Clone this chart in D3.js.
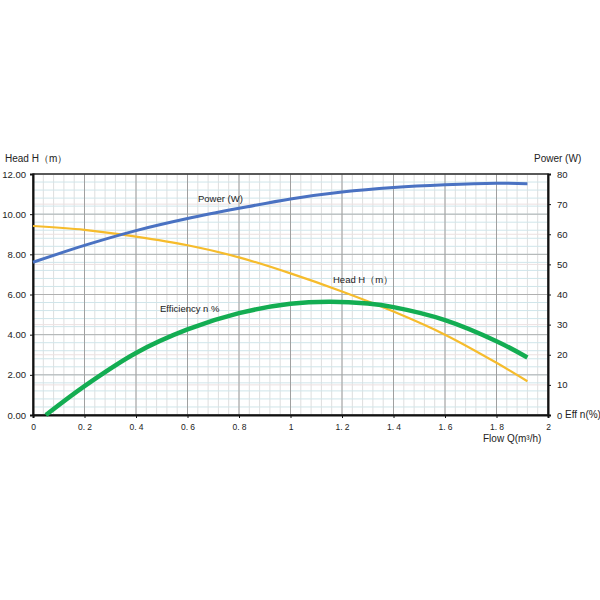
<!DOCTYPE html>
<meta charset="utf-8">
<script src="https://d3js.org/d3.v7.min.js"></script>
<style>
  body { margin: 0; background: #fff; }
  text { font-family: "Liberation Sans", "DejaVu Sans", sans-serif; fill: #222; }
</style>
<div id="chart"></div>
<script>
// flow values (m3/h) and curves
var flowQ     = [0, 0.2, 0.4, 0.6, 0.8, 1.0, 1.2, 1.4, 1.6, 1.8, 1.92];
var headH     = [9.41, 9.22, 8.88, 8.45, 7.85, 7.05, 6.15, 5.15, 4.0, 2.6, 1.68];
var powerW    = [50.7, 56.3, 61.2, 65.2, 68.6, 71.7, 74.0, 75.5, 76.4, 76.9, 76.8];
var effQ      = [0.05, 0.2, 0.4, 0.6, 0.8, 1.0, 1.15, 1.3, 1.4, 1.6, 1.8, 1.92];
var effPct    = [0, 9.6, 20.6, 28.4, 33.8, 36.9, 37.6, 37.0, 35.8, 31.5, 24.5, 19.1];

var xTicks = [0, 0.2, 0.4, 0.6, 0.8, 1, 1.2, 1.4, 1.6, 1.8, 2];
var xTickLabels = ["0", "0. 2", "0. 4", "0. 6", "0. 8", "1", "1. 2", "1. 4", "1. 6", "1. 8", "2"];
var leftTicks = [0, 2, 4, 6, 8, 10, 12];
var rightTicks = [0, 10, 20, 30, 40, 50, 60, 70, 80];

var W = 600, H = 600;
var margin = {left: 33, top: 174, right: 52, bottom: 185};
var width = W - margin.left - margin.right,
    height = H - margin.top - margin.bottom;

var svg = d3.select("#chart").append("svg")
    .attr("width", W).attr("height", H);

var g = svg.append("g")
    .attr("transform", "translate(" + margin.left + "," + margin.top + ")");

var x = d3.scaleLinear().domain([0, 2]).range([0, width]);
var yL = d3.scaleLinear().domain([0, 12]).range([height, 0]);
var yR = d3.scaleLinear().domain([0, 80]).range([height, 0]);

// grid: minor first, majors on top
g.selectAll(".vminor").data(d3.range(0, 2.0001, 0.04)).enter().append("line")
    .attr("x1", d => x(d)).attr("x2", d => x(d))
    .attr("y1", 0).attr("y2", height)
    .attr("stroke", "#dedede").attr("stroke-width", 1);
g.selectAll(".hminor").data(d3.range(0, 12.0001, 0.4)).enter().append("line")
    .attr("x1", 0).attr("x2", width)
    .attr("y1", d => yL(d)).attr("y2", d => yL(d))
    .attr("stroke", "#cfe5ea").attr("stroke-width", 1);
g.selectAll(".hright").data(rightTicks).enter().append("line")
    .attr("x1", 0).attr("x2", width)
    .attr("y1", d => yR(d)).attr("y2", d => yR(d))
    .attr("stroke", "#ece0e0").attr("stroke-width", 1);
g.selectAll(".hmajor").data(leftTicks).enter().append("line")
    .attr("x1", 0).attr("x2", width)
    .attr("y1", d => yL(d)).attr("y2", d => yL(d))
    .attr("stroke", "#b0b0b0").attr("stroke-width", 1);
g.selectAll(".vmajor").data(xTicks).enter().append("line")
    .attr("x1", d => x(d)).attr("x2", d => x(d))
    .attr("y1", 0).attr("y2", height)
    .attr("stroke", "#a0a0a0").attr("stroke-width", 1);

// frame
g.append("rect").attr("width", width).attr("height", height)
    .attr("fill", "none").attr("stroke", "#333").attr("stroke-width", 1.5);

// axes
var leftAxis = g.append("g")
    .call(d3.axisLeft(yL).tickValues(leftTicks).tickFormat(d3.format(".2f")).tickSize(3).tickPadding(4));
var rightAxis = g.append("g").attr("transform", "translate(" + width + ",0)")
    .call(d3.axisRight(yR).tickValues(rightTicks).tickSize(3).tickPadding(6));
var bottomAxis = g.append("g").attr("transform", "translate(0," + height + ")")
    .call(d3.axisBottom(x).tickValues(xTicks).tickFormat((d, i) => xTickLabels[i]).tickSize(3).tickPadding(6));

[leftAxis, rightAxis, bottomAxis].forEach(function(a) {
  a.select(".domain").attr("stroke", "#111").attr("stroke-width", 2);
  a.selectAll(".tick line").attr("stroke", "#111");
  a.selectAll("text").attr("font-size", 9.5).attr("fill", "#333")
    .attr("font-family", "Liberation Sans, sans-serif");
});
bottomAxis.selectAll("text").attr("font-family", "DejaVu Serif, serif").attr("font-size", 8.5).attr("fill", "#555");

// curves
var headData = flowQ.map((q, i) => ({q: q, v: headH[i]}));
var powerData = flowQ.map((q, i) => ({q: q, v: powerW[i]}));
var effData = effQ.map((q, i) => ({q: q, v: effPct[i]}));

g.append("path").datum(headData)
    .attr("fill", "none").attr("stroke", "#f6bc2c").attr("stroke-width", 2.2)
    .attr("d", d3.line().x(d => x(d.q)).y(d => yL(d.v)).curve(d3.curveCatmullRom));
g.append("path").datum(powerData)
    .attr("fill", "none").attr("stroke", "#4a72c2").attr("stroke-width", 3)
    .attr("d", d3.line().x(d => x(d.q)).y(d => yR(d.v)).curve(d3.curveCatmullRom));
g.append("path").datum(effData)
    .attr("fill", "none").attr("stroke", "#13ad52").attr("stroke-width", 4.5)
    .attr("d", d3.line().x(d => x(d.q)).y(d => yR(d.v)).curve(d3.curveCatmullRom));

// labels
svg.append("text").attr("x", 5).attr("y", 162).attr("font-size", 10).text("Head H（m）");
svg.append("text").attr("x", 534).attr("y", 162).attr("font-size", 10).text("Power (W)");
svg.append("text").attr("x", 565).attr("y", 418).attr("font-size", 10).text("Eff n(%)");
svg.append("text").attr("x", 483).attr("y", 442).attr("font-size", 10).text("Flow Q(m³/h)");

svg.append("text").attr("x", 198).attr("y", 202).attr("font-size", 9.5).text("Power (W)");
svg.append("text").attr("x", 333).attr("y", 283).attr("font-size", 9.5).text("Head H（m）");
svg.append("text").attr("x", 160).attr("y", 312).attr("font-size", 9.5).text("Efficiency n %");
</script>
